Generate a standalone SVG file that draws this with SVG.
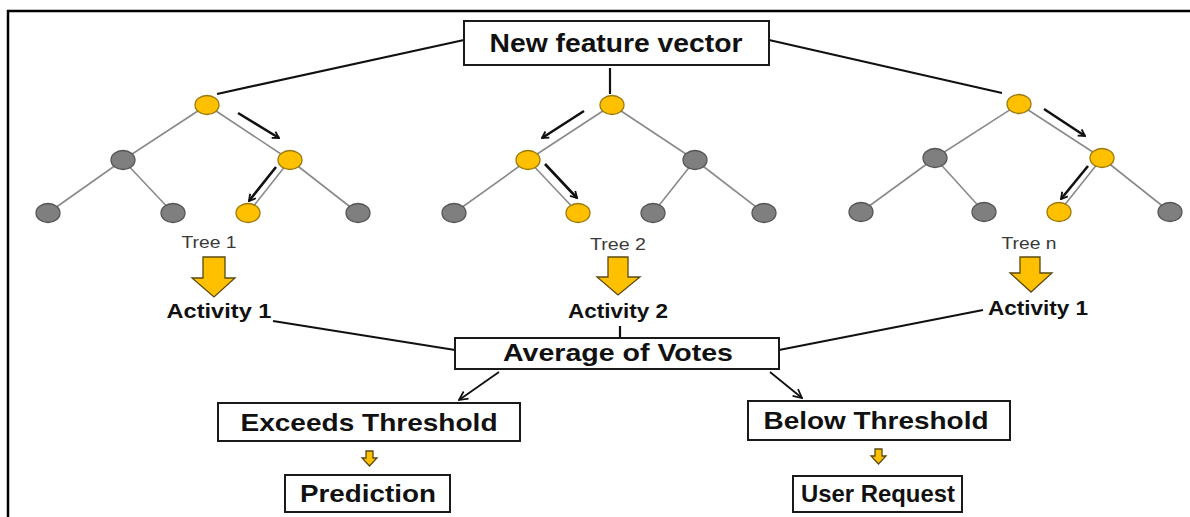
<svg xmlns="http://www.w3.org/2000/svg" width="1190" height="517" viewBox="0 0 1190 517">
  <style>
    .frame { stroke: #000; stroke-width: 2.5; fill: none; }
    .box { fill: #fff; stroke: #1a1a1a; stroke-width: 2; }
    .label { font-family: "Liberation Sans", Arial, sans-serif; font-weight: bold; fill: #111; text-anchor: middle; }
    .tree-name { font-family: "Liberation Sans", Arial, sans-serif; fill: #3a3a3a; text-anchor: middle; font-size: 16px; }
    .edge { stroke: #8a8a8a; stroke-width: 1.6; fill: none; }
    .wire { stroke: #111; stroke-width: 2.2; fill: none; }
    .path-arrow { stroke: #111; stroke-width: 2.6; fill: none; marker-end: url(#barb); }
    .flow-arrow { stroke: #111; stroke-width: 1.8; fill: none; marker-end: url(#open); }
    .on { fill: #FFC000; stroke: #9A7A10; stroke-width: 1.3; }
    .off { fill: #7F7F7F; stroke: #555; stroke-width: 1.3; }
    .block { fill: #FFC000; stroke: #5a4a10; stroke-width: 1.3; stroke-linejoin: miter; }
  </style>
  <defs>
    <marker id="barb" viewBox="0 0 10 10" refX="9" refY="5" markerWidth="3.5" markerHeight="3.5" orient="auto" markerUnits="strokeWidth">
      <path d="M2,1 L9,5 L2,9" fill="none" stroke="#111" stroke-width="2"/>
    </marker>
    <marker id="open" viewBox="0 0 10 10" refX="9" refY="5" markerWidth="6" markerHeight="6" orient="auto" markerUnits="strokeWidth">
      <path d="M1,1 L9,5 L1,9" fill="none" stroke="#111" stroke-width="1.6"/>
    </marker>
  </defs>

  <rect width="1190" height="517" fill="#fff"/>
  <!-- outer frame: top and left rules only -->
  <path class="frame" d="M8,517 V11 H1190"/>

  <g id="connectors">
    <!-- feature vector to the tree roots -->
    <line class="wire" x1="464" y1="40" x2="217" y2="94"/>
    <line class="wire" x1="610" y1="68" x2="610" y2="94"/>
    <line class="wire" x1="769" y1="40" x2="1002" y2="93"/>
    <!-- tree 1 edges -->
    <line class="edge" x1="207" y1="105" x2="123" y2="160"/>
    <line class="edge" x1="207" y1="105" x2="290" y2="160"/>
    <line class="edge" x1="123" y1="160" x2="48" y2="213"/>
    <line class="edge" x1="123" y1="160" x2="173" y2="213"/>
    <line class="edge" x1="290" y1="160" x2="248" y2="213"/>
    <line class="edge" x1="290" y1="160" x2="358" y2="213"/>
    <!-- tree 2 edges -->
    <line class="edge" x1="612" y1="105" x2="528" y2="160"/>
    <line class="edge" x1="612" y1="105" x2="695" y2="160"/>
    <line class="edge" x1="528" y1="160" x2="454" y2="213"/>
    <line class="edge" x1="528" y1="160" x2="578" y2="213"/>
    <line class="edge" x1="695" y1="160" x2="653" y2="213"/>
    <line class="edge" x1="695" y1="160" x2="764" y2="213"/>
    <!-- tree n edges -->
    <line class="edge" x1="1019" y1="104" x2="935" y2="158"/>
    <line class="edge" x1="1019" y1="104" x2="1102" y2="158"/>
    <line class="edge" x1="935" y1="158" x2="861" y2="212"/>
    <line class="edge" x1="935" y1="158" x2="984" y2="212"/>
    <line class="edge" x1="1102" y1="158" x2="1059" y2="212"/>
    <line class="edge" x1="1102" y1="158" x2="1170" y2="212"/>
    <!-- decision path markers -->
    <line class="path-arrow" x1="238" y1="113" x2="279" y2="138"/>
    <line class="path-arrow" x1="276" y1="167" x2="249" y2="201"/>
    <line class="path-arrow" x1="584" y1="111" x2="542" y2="138"/>
    <line class="path-arrow" x1="545" y1="164" x2="577" y2="198"/>
    <line class="path-arrow" x1="1044" y1="109" x2="1085" y2="136"/>
    <line class="path-arrow" x1="1088" y1="166" x2="1061" y2="199"/>
    <!-- votes into the average -->
    <line class="wire" x1="273" y1="321" x2="455" y2="350"/>
    <line class="wire" x1="620" y1="326" x2="620" y2="338"/>
    <line class="wire" x1="983" y1="310" x2="779" y2="350"/>
    <!-- threshold branches -->
    <line class="flow-arrow" x1="499" y1="372" x2="459" y2="400"/>
    <line class="flow-arrow" x1="770" y1="372" x2="802" y2="398"/>
    <!-- yellow block arrows -->
    <path class="block" d="M203,257 H225 V278 H235 L214,297 L192,278 H203 Z"/>
    <path class="block" d="M608,257 H628 V277 H640 L618,295 L597,277 H608 Z"/>
    <path class="block" d="M1020,257 H1040 V273 H1052 L1031,292 L1010,273 H1020 Z"/>
    <path class="block" d="M366,451 H373 V458 H377 L369.5,466 L362,458 H366 Z"/>
    <path class="block" d="M875,449 H882 V456 H886 L878.5,464 L871,456 H875 Z"/>
  </g>

  <g id="feature-vector">
    <rect class="box" x="464" y="21" width="305" height="44"/>
    <text class="label" x="616" y="52" font-size="26" textLength="253" lengthAdjust="spacingAndGlyphs">New feature vector</text>
  </g>

  <g id="tree-1">
    <ellipse class="on" cx="207" cy="105" rx="12" ry="9.5"/>
    <ellipse class="off" cx="123" cy="160" rx="12" ry="9.5"/>
    <ellipse class="on" cx="290" cy="160" rx="12" ry="9.5"/>
    <ellipse class="off" cx="48" cy="213" rx="12" ry="9.5"/>
    <ellipse class="off" cx="173" cy="213" rx="12" ry="9.5"/>
    <ellipse class="on" cx="248" cy="213" rx="12" ry="9.5"/>
    <ellipse class="off" cx="358" cy="213" rx="12" ry="9.5"/>
    <text class="tree-name" x="209" y="248" textLength="55" lengthAdjust="spacingAndGlyphs">Tree 1</text>
  </g>

  <g id="tree-2">
    <ellipse class="on" cx="612" cy="105" rx="12" ry="9.5"/>
    <ellipse class="on" cx="528" cy="160" rx="12" ry="9.5"/>
    <ellipse class="off" cx="695" cy="160" rx="12" ry="9.5"/>
    <ellipse class="off" cx="454" cy="213" rx="12" ry="9.5"/>
    <ellipse class="on" cx="578" cy="213" rx="12" ry="9.5"/>
    <ellipse class="off" cx="653" cy="213" rx="12" ry="9.5"/>
    <ellipse class="off" cx="764" cy="213" rx="12" ry="9.5"/>
    <text class="tree-name" x="618" y="250" textLength="56" lengthAdjust="spacingAndGlyphs">Tree 2</text>
  </g>

  <g id="tree-n">
    <ellipse class="on" cx="1019" cy="104" rx="12" ry="9.5"/>
    <ellipse class="off" cx="935" cy="158" rx="12" ry="9.5"/>
    <ellipse class="on" cx="1102" cy="158" rx="12" ry="9.5"/>
    <ellipse class="off" cx="861" cy="212" rx="12" ry="9.5"/>
    <ellipse class="off" cx="984" cy="212" rx="12" ry="9.5"/>
    <ellipse class="on" cx="1059" cy="212" rx="12" ry="9.5"/>
    <ellipse class="off" cx="1170" cy="212" rx="12" ry="9.5"/>
    <text class="tree-name" x="1029" y="249" textLength="55" lengthAdjust="spacingAndGlyphs">Tree n</text>
  </g>

  <g id="activity-left">
    <text class="label" x="219" y="318" font-size="21" textLength="105" lengthAdjust="spacingAndGlyphs">Activity 1</text>
  </g>
  <g id="activity-middle">
    <text class="label" x="618" y="318" font-size="21" textLength="100" lengthAdjust="spacingAndGlyphs">Activity 2</text>
  </g>
  <g id="activity-right">
    <text class="label" x="1038" y="315" font-size="21" textLength="100" lengthAdjust="spacingAndGlyphs">Activity 1</text>
  </g>

  <g id="average">
    <rect class="box" x="455" y="338" width="324" height="31"/>
    <text class="label" x="618" y="361" font-size="24" textLength="230" lengthAdjust="spacingAndGlyphs">Average of Votes</text>
  </g>

  <g id="exceeds">
    <rect class="box" x="218" y="403" width="302" height="38"/>
    <text class="label" x="369" y="431" font-size="24" textLength="257" lengthAdjust="spacingAndGlyphs">Exceeds Threshold</text>
  </g>

  <g id="prediction">
    <rect class="box" x="285" y="475" width="165" height="37"/>
    <text class="label" x="368" y="502" font-size="24" textLength="136" lengthAdjust="spacingAndGlyphs">Prediction</text>
  </g>

  <g id="below">
    <rect class="box" x="748" y="401" width="262" height="39"/>
    <text class="label" x="876" y="429" font-size="24" textLength="225" lengthAdjust="spacingAndGlyphs">Below Threshold</text>
  </g>

  <g id="user-request">
    <rect class="box" x="793" y="476" width="169" height="36"/>
    <text class="label" x="878" y="502" font-size="24" textLength="154" lengthAdjust="spacingAndGlyphs">User Request</text>
  </g>
</svg>
